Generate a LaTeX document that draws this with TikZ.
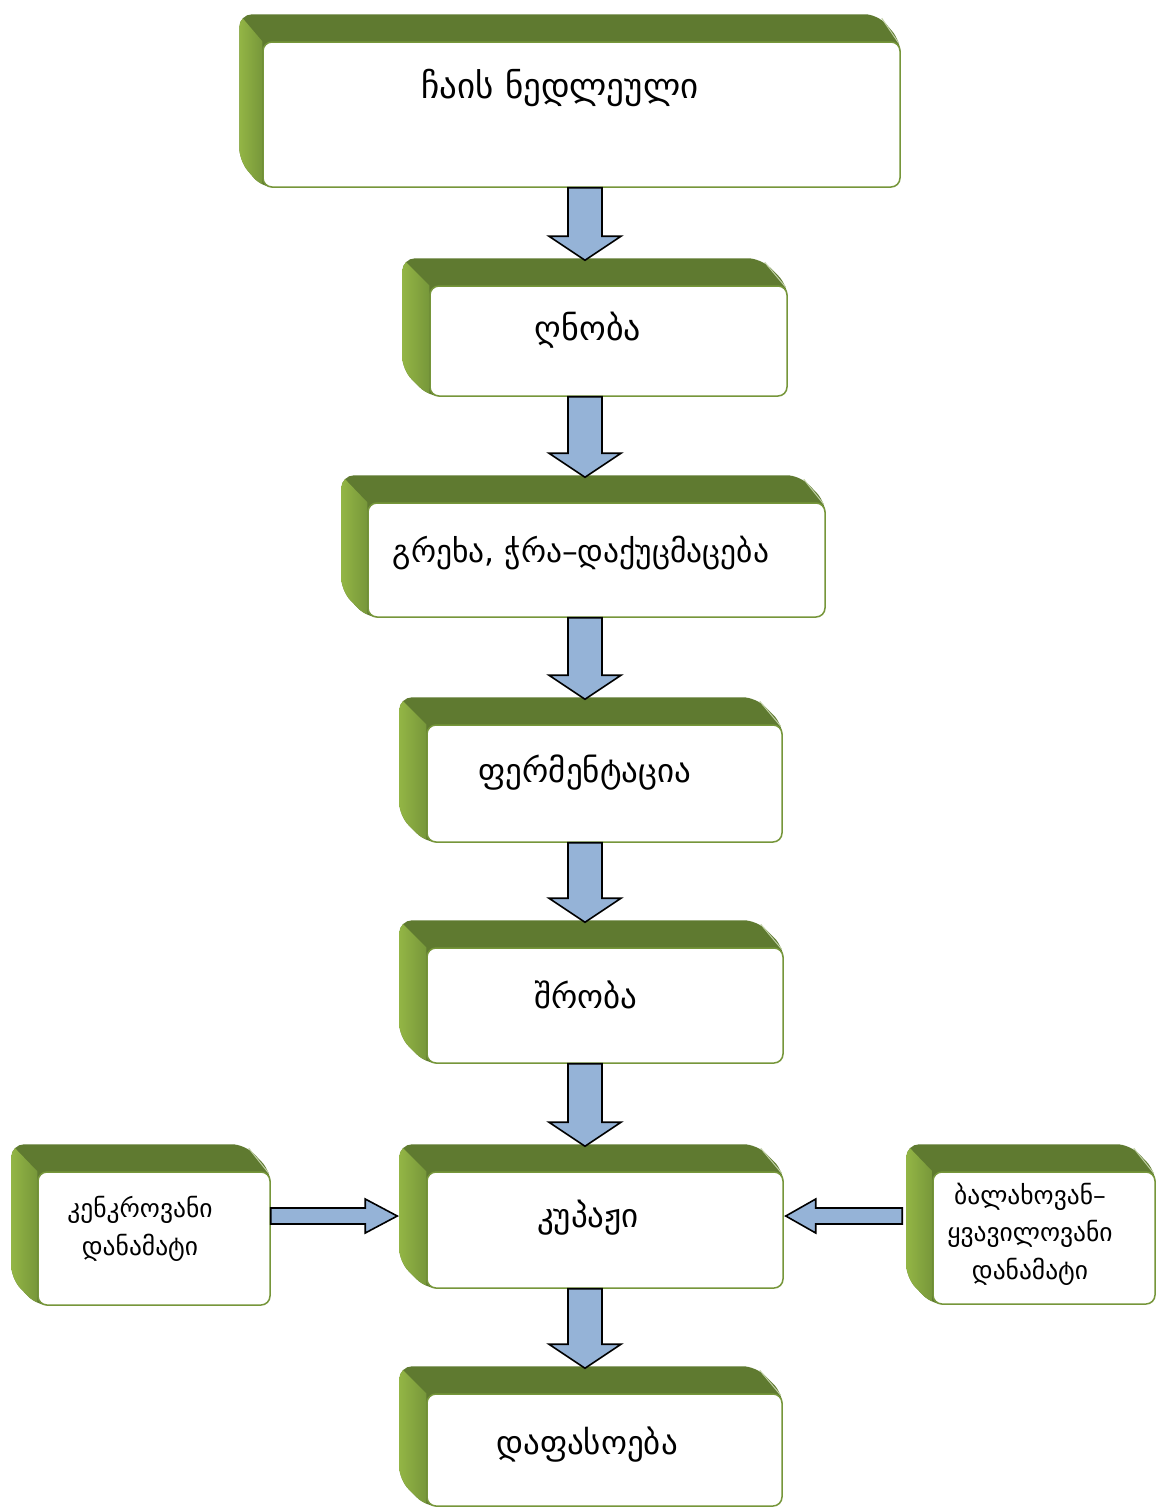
\documentclass[tikz,border=0pt]{standalone}
\usepackage{fontspec}
\newfontfamily\geo{DejaVu Sans}
\usetikzlibrary{calc}
\pgfdeclarelayer{background}
\pgfsetlayers{background,main}
\definecolor{topgreen}{HTML}{5F7A30}
\definecolor{sidelight}{HTML}{93B545}
\definecolor{sidedark}{HTML}{77973A}
\definecolor{edgegreen}{HTML}{76963A}
\definecolor{arrowblue}{HTML}{95B3D7}
\tikzset{
  frontface/.style={draw=edgegreen, line width=1.5pt, fill=white, rounded corners=9pt, inner sep=0pt},
  boxtext/.style={font=\geo\fontsize{33}{38}\selectfont, inner sep=0pt},
  smalltext/.style={font=\geo\fontsize{25.5}{37.5}\selectfont, align=center, inner sep=0pt},
  blockarrow/.style={draw=black, line width=1.6pt, fill=arrowblue, line join=miter},
}
% #1 name, #2 left, #3 top, #4 right, #5 bottom, #6 dx, #7 dy
\newcommand\bevelbox[7]{%
  \node[frontface, minimum width={#4-#2}, minimum height={#5-#3}] (#1) at ({(#2+#4)/2},{(#3+#5)/2}) {};
  \begin{pgfonlayer}{background}
    \path[fill=topgreen, rounded corners=13pt]
      ($(#1.north west)+(-#6,-#7)$) -- ($(#1.north east)+(-#6,-#7)$) -- (#1.north east)
      -- (#1.south east) -- (#1.south west) -- ($(#1.south west)+(-#6,-#7)$) -- cycle;
    \begin{scope}
      \clip[rounded corners=13pt]
        ($(#1.north west)+(-#6,-#7)$) -- ($(#1.north east)+(-#6,-#7)$) -- (#1.north east)
        -- (#1.south east) -- (#1.south west) -- ($(#1.south west)+(-#6,-#7)$) -- cycle;
      \shade[left color=sidelight, right color=sidedark]
        ($(#1.north west)+(-#6,-#7)$) -- ($(#1.south west)+(-#6,-#7)$) -- (#1.south west) -- (#1.north west) -- cycle;
    \end{scope}
    \draw[white!55!edgegreen, line width=1pt]
      ($(#1.north east)+(-#6+4,-#7+4)$) -- ($(#1.north east)+(-2,2)$);
  \end{pgfonlayer}
}
\newcommand\vblock[2]{%
  \draw[blockarrow] let \p1=(#1.south -| axis), \p2=($(#2.north -| axis)+(0,-25)$) in
    (\x1-17pt,\y1) -- (\x1-17pt,\y2+24pt) -- (\x1-36pt,\y2+24pt) -- (\x1,\y2)
    -- (\x1+36pt,\y2+24pt) -- (\x1+17pt,\y2+24pt) -- (\x1+17pt,\y1) -- cycle;
}
\newcommand\hblock[3]{%
  \draw[blockarrow] let \p1=(#1), \p2=(#2), \p3=($(#2)+(#3,0)$) in
    (\x1,\y2+8pt) -- (\x3,\y2+8pt) -- (\x3,\y2+17pt) -- (\x2,\y2)
    -- (\x3,\y2-17pt) -- (\x3,\y2-8pt) -- (\x1,\y2-8pt) -- cycle;
}
\begin{document}
\begin{tikzpicture}[x=1pt, y=-1pt]
  \begin{pgfonlayer}{background}
    \fill[white] (0,0) rectangle (1157,1508);
  \end{pgfonlayer}
  \useasboundingbox (0,0) rectangle (1157,1508);
  \coordinate (axis) at (585,0);

  \bevelbox{b1}{263}{42}{900}{187}{23}{27}
  \bevelbox{b2}{430}{286}{787}{396}{27}{27}
  \bevelbox{b3}{368}{503}{825}{617}{26}{27}
  \bevelbox{b4}{427}{725}{782}{842}{27}{27}
  \bevelbox{b5}{427}{948}{783}{1063}{27}{27}
  \bevelbox{b6}{427}{1172}{783}{1288}{27}{27}
  \bevelbox{b7}{427}{1394}{782}{1506}{27}{27}
  \bevelbox{bl}{38}{1172}{270}{1305}{26}{27}
  \bevelbox{br}{933}{1172}{1155}{1304}{26}{27}

  \node[boxtext, font=\geo\fontsize{35}{40}\selectfont] (t1) at (560,88) {ჩაის ნედლეული};
  \node[boxtext, font=\geo\fontsize{34}{40}\selectfont] (t2) at (588,330) {ღნობა};
  \node[boxtext, font=\geo\fontsize{31.5}{38}\selectfont] (t3) at (581,553) {გრეხა, ჭრა–დაქუცმაცება};
  \node[boxtext] (t4) at (585,773) {ფერმენტაცია};
  \node[boxtext] (t5) at (586,995) {შრობა};
  \node[boxtext] (t6) at (588,1218) {კუპაჟი};
  \node[boxtext] (t7) at (587,1445) {დაფასოება};
  \node[smalltext] (tl) at (140,1229) {კენკროვანი\\დანამატი};
  \node[smalltext] (tr) at (1030,1234) {ბალახოვან–\\ყვავილოვანი\\დანამატი};

  \vblock{b1}{b2}
  \vblock{b2}{b3}
  \vblock{b3}{b4}
  \vblock{b4}{b5}
  \vblock{b5}{b6}
  \vblock{b6}{b7}
  \hblock{bl.east}{$(b6.west)+(-29,-14)$}{-32}
  \hblock{$(br.west)+(-30,0)$}{$(b6.east)+(2,-14)$}{30}
\end{tikzpicture}
\end{document}
